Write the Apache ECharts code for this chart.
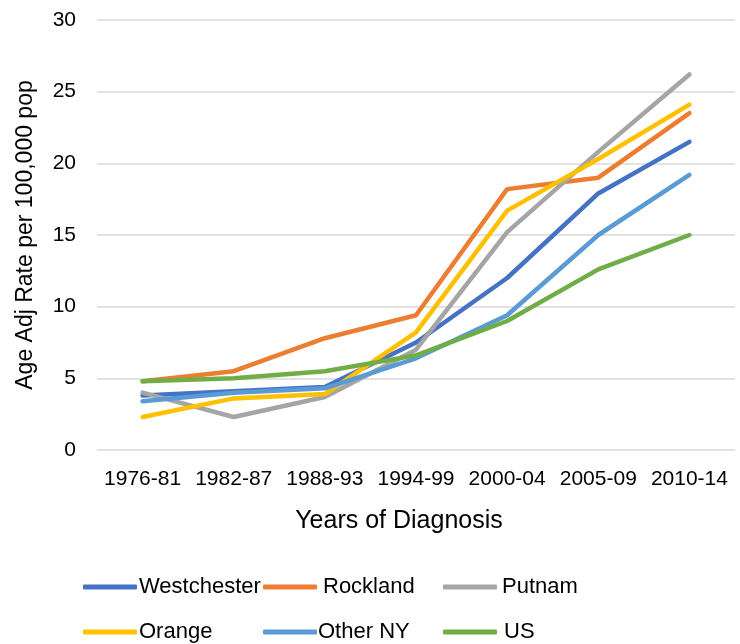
<!DOCTYPE html>
<html>
<head>
<meta charset="utf-8">
<script src="https://cdn.jsdelivr.net/npm/echarts@6/dist/echarts.min.js"></script>
<style>html,body{margin:0;padding:0;background:#fff}#c{width:740px;height:644px}</style>
</head>
<body>
<div id="c"></div>
<script>
const categories = ["1976-81","1982-87","1988-93","1994-99","2000-04","2005-09","2010-14"];
const westchester = [3.8, 4.1, 4.4, 7.5, 12.0, 17.9, 21.5];
const rockland    = [4.8, 5.5, 7.8, 9.4, 18.2, 19.0, 23.5];
const putnam      = [4.0, 2.3, 3.7, 7.0, 15.2, 20.8, 26.2];
const orange      = [2.3, 3.6, 3.9, 8.2, 16.7, 20.3, 24.1];
const otherNY     = [3.4, 4.0, 4.3, 6.4, 9.4, 15.0, 19.2];
const us          = [4.8, 5.0, 5.5, 6.6, 9.0, 12.6, 15.0];
const yTicks = [0, 5, 10, 15, 20, 25, 30];

const seriesDefs = [
  {name: "Westchester", data: westchester, color: "#4472C4"},
  {name: "Rockland", data: rockland, color: "#ED7D31"},
  {name: "Putnam", data: putnam, color: "#A5A5A5"},
  {name: "Orange", data: orange, color: "#FFC000"},
  {name: "Other NY", data: otherNY, color: "#5B9BD5"},
  {name: "US", data: us, color: "#70AD47"}
];
// [left, top, text gap adjust]
const legendPos = [[83, 576, -3], [263, 576, 1], [443, 576, 0], [83, 621, -3], [263, 621, -4], [443, 621, 2]];
const font = "Liberation Sans, Arial, sans-serif";

const chart = echarts.init(document.getElementById('c'), null, {renderer: 'canvas'});
chart.setOption({
  animation: false,
  backgroundColor: '#fff',
  grid: {left: 97, right: 5, top: 20, bottom: 194},
  xAxis: {
    type: 'category',
    data: categories,
    boundaryGap: true,
    axisLine: {show: false},
    axisTick: {show: false},
    axisLabel: {color: '#000', fontSize: 21, fontFamily: font, margin: 19, interval: 0},
    name: 'Years of Diagnosis',
    nameLocation: 'middle',
    nameGap: 59,
    nameTextStyle: {color: '#000', fontSize: 25, fontFamily: font, padding: [0, 34, 0, 0]}
  },
  yAxis: {
    type: 'value',
    min: yTicks[0],
    max: yTicks[yTicks.length - 1],
    interval: 5,
    axisLine: {show: false},
    axisTick: {show: false},
    axisLabel: {color: '#000', fontSize: 21, fontFamily: font, margin: 21},
    splitLine: {lineStyle: {color: '#d9d9d9', width: 1.5}},
    name: 'Age Adj Rate per 100,000 pop',
    nameLocation: 'middle',
    nameGap: 60,
    nameTextStyle: {color: '#000', fontSize: 23, fontFamily: font}
  },
  legend: seriesDefs.map((s, i) => ({
    data: [s.name],
    left: legendPos[i][0],
    top: legendPos[i][1],
    padding: 0,
    icon: 'roundRect',
    itemWidth: 54,
    itemHeight: 5,
    itemGap: 0,
    textStyle: {color: '#000', fontSize: 22, fontFamily: font, padding: [0, 0, 0, legendPos[i][2]]}
  })),
  series: seriesDefs.map(s => ({
    name: s.name,
    type: 'line',
    data: s.data,
    color: s.color,
    showSymbol: false,
    symbol: 'none',
    lineStyle: {width: 4.5, color: s.color, cap: 'round', join: 'round'},
    itemStyle: {color: s.color}
  }))
});
</script>
</body>
</html>
